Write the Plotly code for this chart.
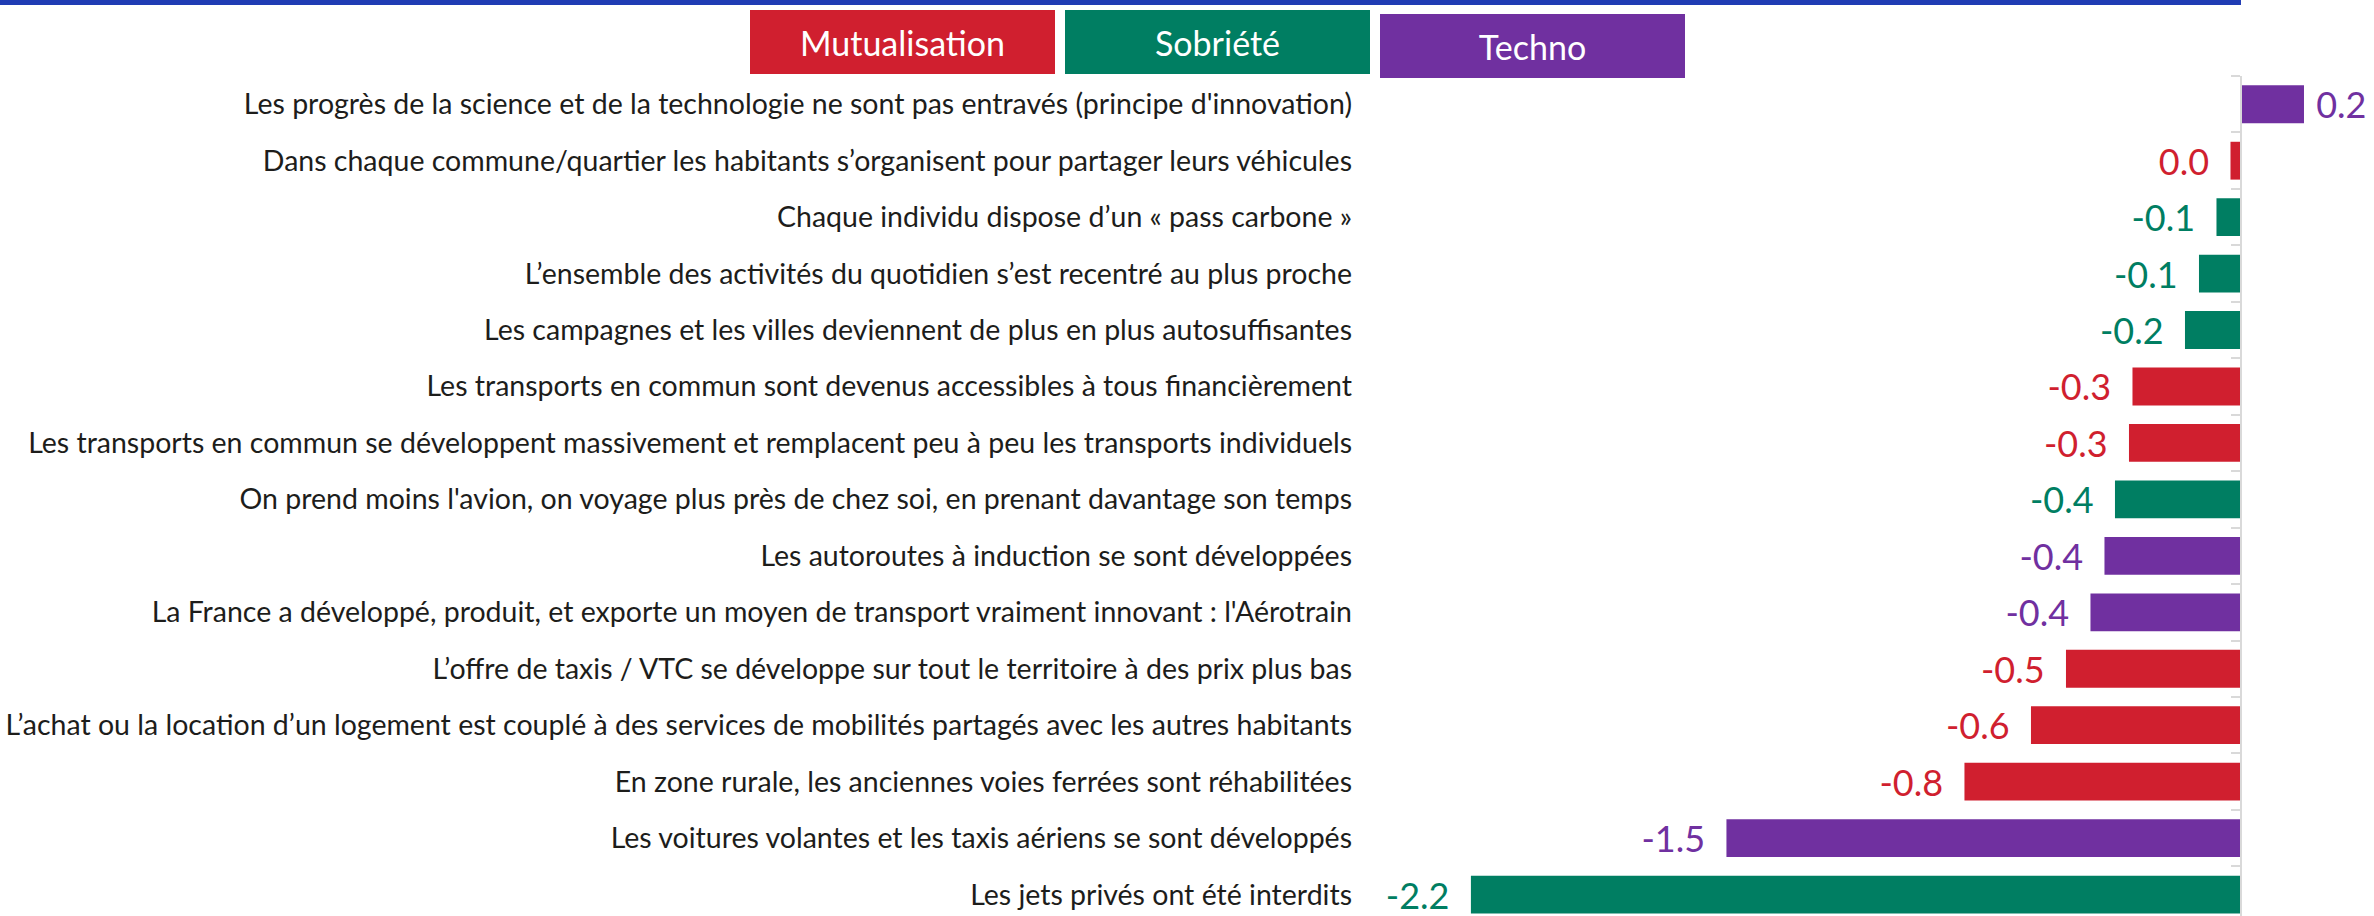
import plotly.graph_objects as go

# Données (score moyen par proposition)
categories = [
    "Les progrès de la science et de la technologie ne sont pas entravés (principe d'innovation)",
    "Dans chaque commune/quartier les habitants s’organisent pour partager leurs véhicules",
    "Chaque individu dispose d’un « pass carbone »",
    "L’ensemble des activités du quotidien s’est recentré au plus proche",
    "Les campagnes et les villes deviennent de plus en plus autosuffisantes",
    "Les transports en commun sont devenus accessibles à tous financièrement",
    "Les transports en commun se développent massivement et remplacent peu à peu les transports individuels",
    "On prend moins l'avion, on voyage plus près de chez soi, en prenant davantage son temps",
    "Les autoroutes à induction se sont développées",
    "La France a développé, produit, et exporte un moyen de transport vraiment innovant : l'Aérotrain",
    "L’offre de taxis / VTC se développe sur tout le territoire à des prix plus bas",
    "L’achat ou la location d’un logement est couplé à des services de mobilités partagés avec les autres habitants",
    "En zone rurale, les anciennes voies ferrées sont réhabilitées",
    "Les voitures volantes et les taxis aériens se sont développés",
    "Les jets privés ont été interdits",
]
values = [0.18, -0.03, -0.07, -0.12, -0.16, -0.31, -0.32, -0.36, -0.39, -0.43, -0.50, -0.60, -0.79, -1.47, -2.20]
groups = ["Techno", "Mutualisation", "Sobriété", "Sobriété", "Sobriété", "Mutualisation", "Mutualisation",
          "Sobriété", "Techno", "Techno", "Mutualisation", "Mutualisation", "Mutualisation", "Techno", "Sobriété"]
series = ["Mutualisation", "Sobriété", "Techno"]
series_colors = ["#D01F2F", "#007E62", "#7030A0"]

color_of = dict(zip(series, series_colors))
bar_colors = [color_of[g] for g in groups]
labels = [("\u00a0" + f"{round(v, 1) + 0:.1f}") if v > 0 else (f"{round(v, 1) + 0:.1f}" + "\u00a0\u00a0")
          for v in values]

FONT = "Lato"
W, H = 2374, 916
M_TOP = 76
x_min, x_max = -2.474, 0.38
dom0 = 1375 / W
plot_h = H - M_TOP
zero_p = dom0 + (0 - x_min) / (x_max - x_min) * (1 - dom0)
y_range = [14.38, -0.5]

fig = go.Figure()
fig.add_trace(go.Bar(
    x=values, y=categories, orientation="h",
    marker=dict(color=bar_colors, line=dict(width=0)),
    text=labels, textposition="outside",
    textfont=dict(color=bar_colors, size=36, family=FONT),
    constraintext="none", cliponaxis=False,
    hoverinfo="x+y", showlegend=False,
))
# trace invisible pour porter l'axe du zéro
fig.add_trace(go.Scatter(
    x=[0] * len(categories), y=categories, yaxis="y2", mode="markers",
    marker=dict(opacity=0), hoverinfo="skip", showlegend=False,
))

# légende en pavés colorés
legend_pos = [(902, 42), (1217.5, 42), (1532.5, 46)]
for name, col, (cx, cy) in zip(series, series_colors, legend_pos):
    fig.add_annotation(
        x=cx / W, y=1 + (M_TOP - cy) / plot_h, xref="paper", yref="paper",
        xanchor="center", yanchor="middle", showarrow=False,
        text=name, font=dict(color="white", size=34, family=FONT),
        bgcolor=col, width=305, height=64, borderpad=0, borderwidth=0,
    )

# filet bleu en haut
fig.add_shape(type="rect", xref="paper", yref="paper",
              x0=0, x1=zero_p, y0=1 + (M_TOP - 5) / plot_h, y1=1 + M_TOP / plot_h,
              fillcolor="#203CB4", line=dict(width=0), layer="above")

fig.update_layout(
    width=W, height=H,
    margin=dict(l=0, r=0, t=M_TOP, b=0),
    paper_bgcolor="white", plot_bgcolor="white",
    bargap=0.33,
    font=dict(family=FONT, color="#1d1d1b"),
    xaxis=dict(domain=[dom0, 1], range=[x_min, x_max], showgrid=False, zeroline=False,
               showticklabels=False, ticks="", showline=False),
    yaxis=dict(type="category", categoryorder="array", categoryarray=categories, range=y_range,
               showgrid=False, showline=False, ticks="", ticklabelstandoff=22,
               tickfont=dict(size=28.5, family=FONT, color="#1d1d1b"), automargin=False),
    yaxis2=dict(type="category", categoryorder="array", categoryarray=categories, range=y_range,
                overlaying="y", anchor="free", position=zero_p, side="left",
                showline=True, linecolor="#D9D9D9", linewidth=2,
                ticks="outside", tickson="boundaries", ticklen=9, tickwidth=2, tickcolor="#D9D9D9",
                showticklabels=False, showgrid=False, zeroline=False),
)

# la page par défaut garde une marge de 8 px autour du graphique
fig.write_html("out.html", config={"displayModeBar": False},
               post_script="document.body.style.margin='0';")
